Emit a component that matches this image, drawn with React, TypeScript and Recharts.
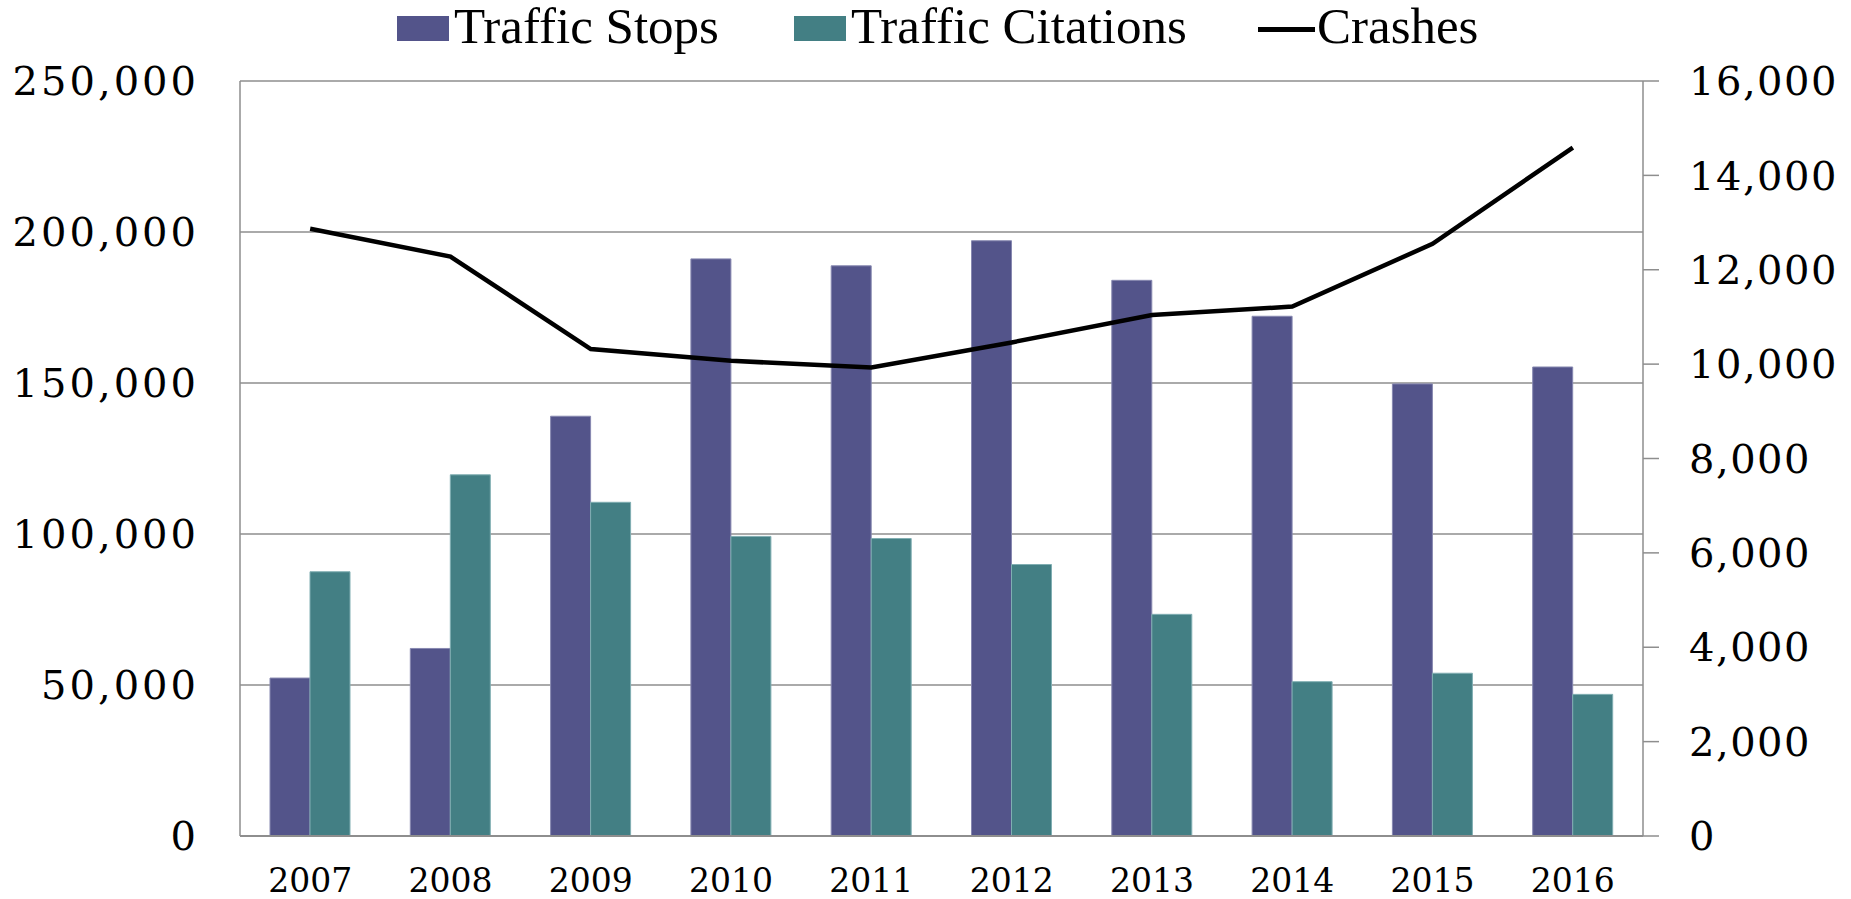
import React from 'react';
import { ComposedChart, Bar, Line, XAxis, YAxis, CartesianGrid, Legend } from 'recharts';

const years = ['2007', '2008', '2009', '2010', '2011', '2012', '2013', '2014', '2015', '2016'];
const trafficStops = [52300, 62100, 139000, 191100, 188800, 197100, 184000, 172100, 149700, 155300];
const trafficCitations = [87500, 119600, 110500, 99200, 98500, 89900, 73400, 51100, 53900, 46900];
const crashes = [12870, 12280, 10320, 10070, 9930, 10460, 11040, 11220, 12550, 14590];
const leftTicks = [0, 50000, 100000, 150000, 200000, 250000];
const rightTicks = [0, 2000, 4000, 6000, 8000, 10000, 12000, 14000, 16000];
const seriesNames = ['Traffic Stops', 'Traffic Citations', 'Crashes'];

const STOPS_COLOR = '#53548a';
const CITATIONS_COLOR = '#437f84';
const CRASH_COLOR = '#000000';
const AXIS_COLOR = '#8e8e8e';

const LEGEND_LEFTS = [397, 794, 1258];

const data = years.map((year, i) => ({
  year,
  stops: trafficStops[i],
  citations: trafficCitations[i],
  crashes: crashes[i],
}));

const fmt = (v: number) => v.toLocaleString('en-US');

const renderLegend = (props: any) => {
  const payload = [...(props.payload || [])].sort(
    (a: any, b: any) => seriesNames.indexOf(a.value) - seriesNames.indexOf(b.value)
  );
  return (
    <div style={{ position: 'relative', width: 1851, height: 60 }}>
      {payload.map((entry: any, i: number) => {
        const isLine = entry.type === 'line';
        const left = LEGEND_LEFTS[i] ?? 0;
        return (
          <div key={entry.value} style={{ position: 'absolute', left, top: 0, height: 60 }}>
            {isLine ? (
              <div style={{ position: 'absolute', left: 0, top: 27, width: 57, height: 5, background: entry.color }} />
            ) : (
              <div style={{ position: 'absolute', left: 0, top: 16, width: 52, height: 25, background: entry.color }} />
            )}
            <span
              style={{
                position: 'absolute',
                left: isLine ? 59 : 57,
                top: -2,
                fontFamily: '"Liberation Serif", serif',
                fontSize: 51,
                lineHeight: '56px',
                color: '#000',
                whiteSpace: 'nowrap',
              }}
            >
              {entry.value}
            </span>
          </div>
        );
      })}
    </div>
  );
};

export default function App() {
  const leftTick = { fill: '#000', fontSize: 40, fontFamily: '"DejaVu Serif", serif', letterSpacing: 3 };
  const rightTick = { fill: '#000', fontSize: 40, fontFamily: '"DejaVu Serif", serif', letterSpacing: 1.5 };
  return (
    <div style={{ position: 'absolute', left: 0, top: 0, width: 1851, height: 899, background: '#fff' }}>
      <ComposedChart
        width={1851}
        height={899}
        data={data}
        margin={{ top: 81, right: 0, bottom: 0, left: 0 }}
        barGap={0}
      >
        <CartesianGrid yAxisId="left" vertical={false} stroke={AXIS_COLOR} strokeWidth={1.5} />
        <XAxis
          dataKey="year"
          height={63}
          tickLine={false}
          tickSize={1}
          tickMargin={32}
          axisLine={{ stroke: AXIS_COLOR, strokeWidth: 2 }}
          tick={{ fill: '#000', fontSize: 33, fontFamily: '"DejaVu Serif", serif' }}
          interval={0}
        />
        <YAxis
          yAxisId="left"
          orientation="left"
          width={240}
          domain={[0, 250000]}
          ticks={leftTicks}
          tickFormatter={fmt}
          tickLine={false}
          tickSize={1}
          tickMargin={40}
          axisLine={{ stroke: AXIS_COLOR, strokeWidth: 1.5 }}
          tick={leftTick}
          interval={0}
        />
        <YAxis
          yAxisId="right"
          orientation="right"
          width={208}
          domain={[0, 16000]}
          ticks={rightTicks}
          tickFormatter={fmt}
          tickLine={{ stroke: AXIS_COLOR, strokeWidth: 1.5 }}
          tickSize={16}
          tickMargin={30}
          axisLine={{ stroke: AXIS_COLOR, strokeWidth: 1.5 }}
          tick={rightTick}
          interval={0}
        />
        <Legend
          layout="horizontal"
          verticalAlign="middle"
          align="center"
          wrapperStyle={{ top: 0, left: 0, width: 1851 }}
          content={renderLegend}
        />
        <Bar
          yAxisId="left"
          dataKey="stops"
          name="Traffic Stops"
          fill={STOPS_COLOR}
          stroke="#8788b0"
          strokeWidth={1}
          barSize={40}
          isAnimationActive={false}
        />
        <Bar
          yAxisId="left"
          dataKey="citations"
          name="Traffic Citations"
          fill={CITATIONS_COLOR}
          stroke="#80aeb2"
          strokeWidth={1}
          barSize={40}
          isAnimationActive={false}
        />
        <Line
          yAxisId="right"
          type="linear"
          dataKey="crashes"
          name="Crashes"
          stroke={CRASH_COLOR}
          strokeWidth={4.5}
          dot={false}
          activeDot={false}
          legendType="line"
          isAnimationActive={false}
        />
      </ComposedChart>
    </div>
  );
}
